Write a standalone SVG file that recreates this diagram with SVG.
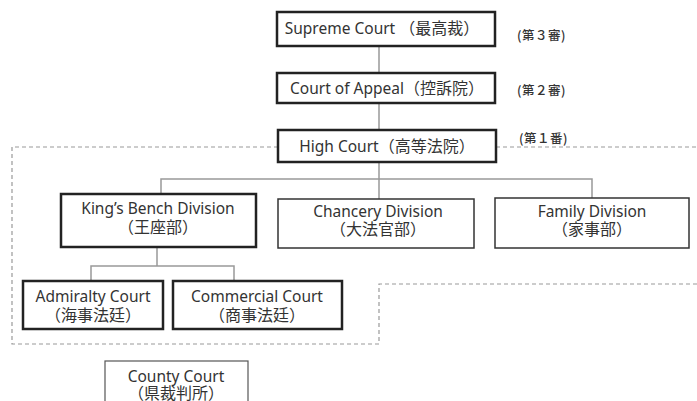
<svg xmlns="http://www.w3.org/2000/svg" width="697" height="401" viewBox="0 0 697 401">
<style>
.bg{fill:#ffffff}
.box{fill:#ffffff;stroke:#222;stroke-width:2.5}
.box2{fill:#ffffff;stroke:#333;stroke-width:1.5}
.box3{fill:#ffffff;stroke:#555;stroke-width:1.2}
.t{font-family:"Noto Sans","Noto Sans CJK JP",sans-serif;font-size:15.5px;fill:#333;text-anchor:middle}
.cj{font-family:"Noto Sans CJK JP",sans-serif;font-size:16px}
.lab{font-family:"Noto Sans CJK JP","Noto Sans",sans-serif;font-size:12.5px;font-weight:500;fill:#333;letter-spacing:0.5px}
.con{fill:none;stroke:#999;stroke-width:1.5}
.dash{fill:none;stroke:#999;stroke-width:1.2;stroke-dasharray:4 3}
</style>
<rect class="bg" x="0" y="0" width="697" height="401"/>
<g id="region">
<path class="dash" d="M278 147 H12 V344 H379 V284 H697"/>
<path class="dash" d="M496 147 H697"/>
</g>
<g id="connectors">
<path class="con" d="M379 46 V73"/>
<path class="con" d="M379 103 V130"/>
<path class="con" d="M379 162 V199"/>
<path class="con" d="M161 194 V179 H592 V198"/>
<path class="con" d="M157 247 V266"/>
<path class="con" d="M91 281 V266 H234 V281"/>
</g>
<g id="supreme">
<rect class="box" x="277" y="12" width="218" height="34"/>
<text class="t" x="382" y="34">Supreme Court <tspan class="cj">（最高裁）</tspan></text>
</g>
<g id="appeal">
<rect class="box" x="277" y="73" width="218" height="30"/>
<text class="t" x="387" y="94">Court of Appeal<tspan class="cj">（控訴院）</tspan></text>
</g>
<g id="high">
<rect class="box" x="278" y="130" width="218" height="32"/>
<text class="t" x="387" y="152">High Court<tspan class="cj">（高等法院）</tspan></text>
</g>
<g id="label3"><text class="lab" x="517" y="40">(第３審)</text></g>
<g id="label2"><text class="lab" x="517" y="95">(第２審)</text></g>
<g id="label1"><text class="lab" x="519" y="143">(第１番)</text></g>
<g id="kingsbench">
<rect class="box" x="61" y="194" width="195" height="53"/>
<text class="t" x="158" y="214"><tspan x="158">King’s Bench Division</tspan><tspan class="cj" x="158" dy="19">（王座部）</tspan></text>
</g>
<g id="chancery">
<rect class="box2" x="278" y="199" width="196" height="49"/>
<text class="t" x="378" y="217"><tspan x="378">Chancery Division</tspan><tspan class="cj" x="378" dy="18">（大法官部）</tspan></text>
</g>
<g id="family">
<rect class="box2" x="495" y="198" width="194" height="50"/>
<text class="t" x="592" y="217"><tspan x="592">Family Division</tspan><tspan class="cj" x="592" dy="18">（家事部）</tspan></text>
</g>
<g id="admiralty">
<rect class="box" x="23" y="281" width="140" height="48"/>
<text class="t" x="93" y="302"><tspan x="93">Admiralty Court</tspan><tspan class="cj" x="93" dy="19">（海事法廷）</tspan></text>
</g>
<g id="commercial">
<rect class="box" x="173" y="281" width="169" height="48"/>
<text class="t" x="257" y="302"><tspan x="257">Commercial Court</tspan><tspan class="cj" x="257" dy="19">（商事法廷）</tspan></text>
</g>
<g id="county">
<rect class="box3" x="105" y="361" width="143" height="45"/>
<text class="t" x="176" y="382"><tspan x="176">County Court</tspan><tspan class="cj" x="176" dy="17">（県裁判所）</tspan></text>
</g>
</svg>
